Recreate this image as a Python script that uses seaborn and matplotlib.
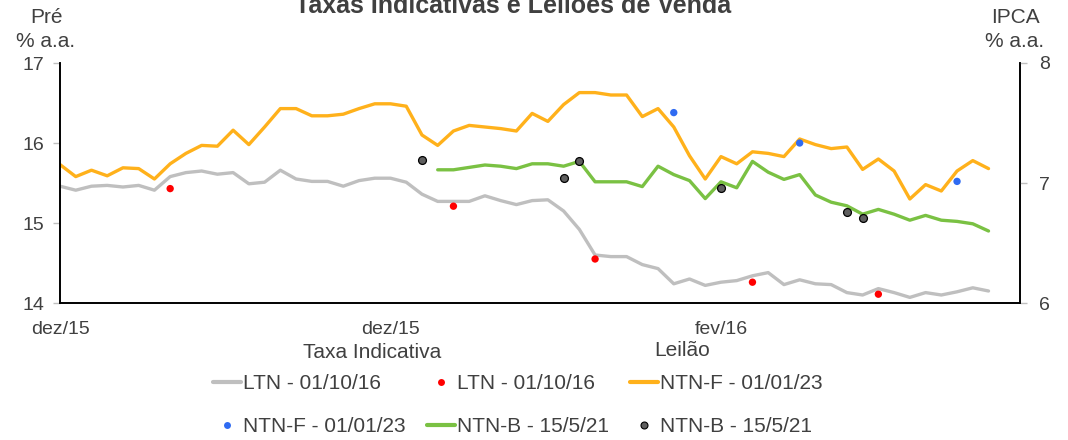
import numpy as np
import pandas as pd
import seaborn as sns
import matplotlib.pyplot as plt
from matplotlib.lines import Line2D

# eixo de categorias (dias), 62 posicoes, dados em 0..59
x_ticks = [0, 21, 42]
x_labels = ["dez/15", "dez/15", "fev/16"]

# taxas indicativas (% a.a.)
ltn = [15.46, 15.41, 15.46, 15.47, 15.45, 15.47, 15.41, 15.58, 15.63, 15.65,
       15.61, 15.63, 15.49, 15.51, 15.66, 15.55, 15.52, 15.52, 15.46, 15.53,
       15.56, 15.56, 15.51, 15.36, 15.27, 15.27, 15.27, 15.34, 15.28, 15.23,
       15.28, 15.29, 15.15, 14.92, 14.60, 14.58, 14.58, 14.48, 14.43, 14.24,
       14.30, 14.22, 14.26, 14.28, 14.34, 14.38, 14.23, 14.29, 14.24, 14.23,
       14.13, 14.10, 14.18, 14.13, 14.07, 14.13, 14.10, 14.14, 14.19, 14.15]
ntnf = [15.73, 15.58, 15.66, 15.59, 15.69, 15.68, 15.55, 15.74, 15.87, 15.97,
        15.96, 16.16, 15.98, 16.20, 16.43, 16.43, 16.34, 16.34, 16.36, 16.43,
        16.49, 16.49, 16.46, 16.10, 15.97, 16.15, 16.22, 16.20, 16.18, 16.15,
        16.37, 16.27, 16.48, 16.63, 16.63, 16.60, 16.60, 16.33, 16.43, 16.20,
        15.84, 15.55, 15.83, 15.74, 15.89, 15.87, 15.83, 16.05, 15.98, 15.93,
        15.95, 15.67, 15.80, 15.65, 15.30, 15.48, 15.40, 15.65, 15.78, 15.68]
ntnb = [np.nan] * 24 + [
        7.11, 7.11, 7.13, 7.15, 7.14, 7.12,
        7.16, 7.16, 7.14, 7.18, 7.01, 7.01, 7.01, 6.97, 7.14, 7.07,
        7.02, 6.87, 7.01, 6.96, 7.18, 7.09, 7.03, 7.07, 6.90, 6.84,
        6.81, 6.74, 6.78, 6.74, 6.69, 6.73, 6.69, 6.68, 6.66, 6.60]

# leiloes
ltn_leilao_x = [7, 25, 34, 44, 52]
ltn_leilao_y = [15.43, 15.21, 14.55, 14.26, 14.11]
ntnf_leilao_x = [39, 47, 57]
ntnf_leilao_y = [16.38, 16.00, 15.52]
ntnb_leilao_x = [23, 32, 33, 42, 50, 51]
ntnb_leilao_y = [7.19, 7.04, 7.18, 6.96, 6.76, 6.71]

c_ltn = "#BFBFBF"
c_ntnf = "#FFB11B"
c_ntnb = "#7AC143"
c_red = "#FF0000"
c_blue = "#2F6BF2"
c_dk = "#5F5F5F"
txt = "#404040"

sns.set_style("white")
plt.rcParams["font.family"] = ["Liberation Sans", "DejaVu Sans"]

df = pd.DataFrame({"dia": np.arange(len(ltn)), "ltn": ltn, "ntnf": ntnf, "ntnb": ntnb})

W, H = 1068, 440
fig = plt.figure(figsize=(W / 100, H / 100), dpi=100)
ax = fig.add_axes([60 / W, 1 - 303 / H, (1020 - 60) / W, 240 / H])
ax2 = ax.twinx()

sns.lineplot(data=df, x="dia", y="ltn", ax=ax, color=c_ltn, lw=2.4, legend=False)
sns.lineplot(data=df, x="dia", y="ntnf", ax=ax, color=c_ntnf, lw=2.4, legend=False)
sns.lineplot(data=df.dropna(), x="dia", y="ntnb", ax=ax2, color=c_ntnb, lw=2.4, legend=False)

sns.scatterplot(x=ltn_leilao_x, y=ltn_leilao_y, ax=ax, color=c_red, s=28,
                edgecolor="none", zorder=5, legend=False)
sns.scatterplot(x=ntnf_leilao_x, y=ntnf_leilao_y, ax=ax, color=c_blue, s=28,
                edgecolor="none", zorder=5, legend=False)
sns.scatterplot(x=ntnb_leilao_x, y=ntnb_leilao_y, ax=ax2, color=c_dk, s=32,
                edgecolor="black", linewidth=0.9, zorder=5, legend=False)

ax.set_xlim(0, 61)
ax.set_ylim(14, 17)
ax2.set_ylim(6, 8)
ax.set_yticks([14, 15, 16, 17])
ax2.set_yticks([6, 7, 8])
ax.set_xticks(x_ticks)
ax.set_xticklabels(x_labels)
ax.set_xlabel("")
ax.set_ylabel("")
ax2.set_ylabel("")

for a in (ax, ax2):
    for s in a.spines.values():
        s.set_color("black")
        s.set_linewidth(1.2)
    a.spines["top"].set_visible(False)
ax.tick_params(axis="x", direction="inout", length=12, width=1, color="#BFBFBF",
               labelsize=14, labelcolor=txt, pad=7)
ax.tick_params(axis="y", direction="out", length=5, width=1, color="#BFBFBF",
               labelsize=14, labelcolor=txt, pad=6, left=True)
ax2.tick_params(axis="y", direction="out", length=5, width=1, color="#BFBFBF",
                labelsize=14, labelcolor=txt, pad=9, right=True)

fig.text(513 / W, 1 - 13 / H, "Taxas Indicativas e Leilões de Venda", ha="center",
         va="baseline", fontsize=18, fontweight="bold", color=txt)
for xc, top in ((46, "Pré"), (1015, "IPCA")):
    fig.text(xc / W, 1 - 23 / H, top, ha="center", va="baseline", fontsize=15, color=txt)
    fig.text(xc / W, 1 - 47 / H, "% a.a.", ha="center", va="baseline", fontsize=15, color=txt)
fig.text(372 / W, 1 - 352 / H, "Taxa Indicativa", ha="center", va="center",
         fontsize=15, color=txt)
fig.text(682 / W, 1 - 350 / H, "Leilão", ha="center", va="center",
         fontsize=15, color=txt)

h_ltn = Line2D([], [], color=c_ltn, lw=3)
h_ltn_l = Line2D([], [], color=c_red, marker="o", ls="none", ms=5, mec="none")
h_ntnf = Line2D([], [], color=c_ntnf, lw=3)
h_ntnf_l = Line2D([], [], color=c_blue, marker="o", ls="none", ms=5, mec="none")
h_ntnb = Line2D([], [], color=c_ntnb, lw=3)
h_ntnb_l = Line2D([], [], color=c_dk, marker="o", ls="none", ms=5, mec="black", mew=0.8)

# ordem por colunas para sair por linhas
handles = [h_ltn, h_ntnf_l, h_ltn_l, h_ntnb, h_ntnf, h_ntnb_l]
labels = ["LTN - 01/10/16", "NTN-F - 01/01/23", "LTN - 01/10/16",
          "NTN-B - 15/5/21", "NTN-F - 01/01/23", "NTN-B - 15/5/21"]
leg = fig.legend(handles, labels, loc="center", bbox_to_anchor=(518 / W, 1 - 405 / H),
                 ncol=3, frameon=False, fontsize=15, handlelength=1.35, handletextpad=0.1,
                 columnspacing=1.0, labelspacing=1.15, labelcolor=txt)

fig.savefig("out.png", dpi=100)
